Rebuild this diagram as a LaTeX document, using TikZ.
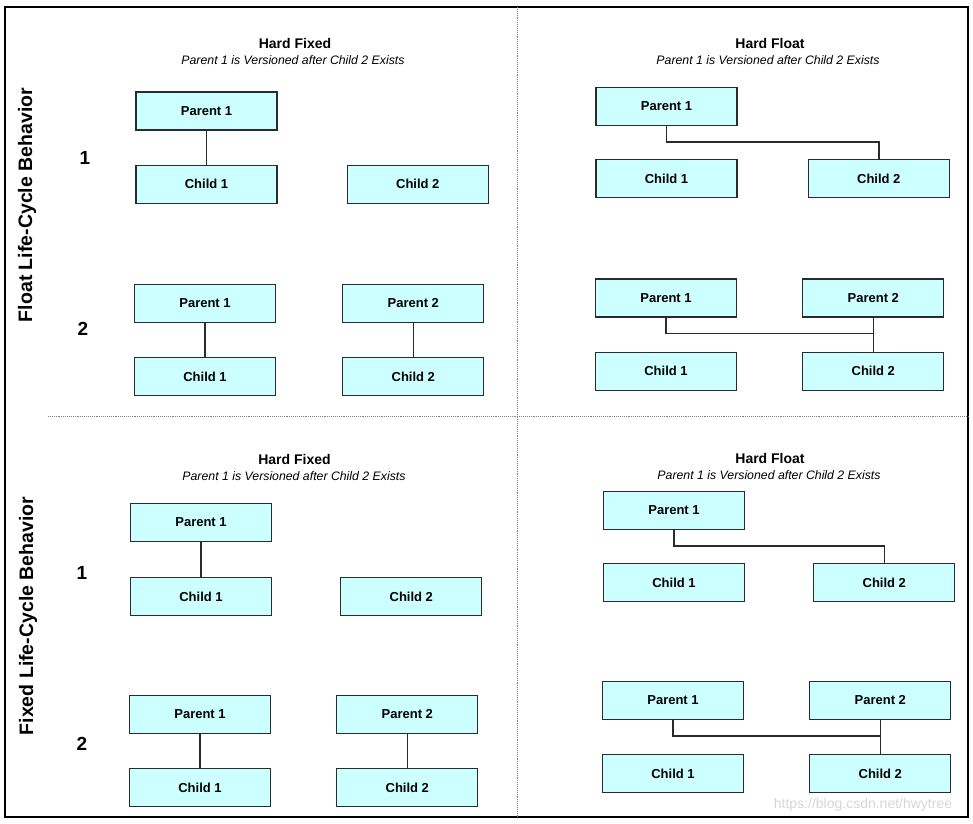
\documentclass[tikz,border=0pt]{standalone}
\usepackage{fontspec}
\setmainfont{Liberation Sans}
\usepackage{tikz}
\usetikzlibrary{positioning}
\definecolor{boxcyan}{HTML}{CCFFFF}
\definecolor{edgegray}{HTML}{2B2B2B}
\definecolor{markgray}{HTML}{D6D6D6}

\begin{document}
\begin{tikzpicture}[
  x=1pt,y=-1pt,
  node distance=34pt and 67pt,
  box/.style={draw=edgegray,line width=1.3pt,fill=boxcyan,minimum width=141pt,
              minimum height=38pt,inner sep=0pt,font=\fontsize{13}{15}\selectfont\bfseries},
  link/.style={draw=edgegray,line width=1.4pt},
  hdr/.style={font=\fontsize{14}{16}\selectfont\bfseries},
  subtitle/.style={font=\fontsize{12.3}{14}\selectfont\itshape},
  sidelabel/.style={rotate=90,font=\fontsize{19.5}{22}\selectfont\bfseries},
  rownum/.style={font=\fontsize{19}{21}\selectfont\bfseries},
  divider/.style={draw=gray,line width=0.9pt,densely dotted}
]
  \useasboundingbox (0,0) rectangle (973,823);
  \draw[line width=1.5pt] (5,7) rectangle (968,817);
  \draw[divider] (517.5,7) -- (517.5,817);
  \draw[divider] (48,416.5) -- (968,416.5);

  \node[sidelabel] (floatlbl) at (27,205) {Float Life-Cycle Behavior};
  \node[sidelabel] (fixedlbl) at (28,616) {Fixed Life-Cycle Behavior};
  \node[rownum] (num1a) at (85,158) {1};
  \node[rownum] (num2a) at (83,329) {2};
  \node[rownum] (num1b) at (82,573) {1};
  \node[rownum] (num2b) at (82,744) {2};

  \node[hdr] (ahdr) at (295,43) {Hard Fixed};
  \node[subtitle] (asub) at (293,60) {Parent 1 is Versioned after Child 2 Exists};
  \node[box] (a1p1) at (206.5,111) {Parent 1};
  \node[box,below=of a1p1] (a1c1) {Child 1};
  \node[box,right=69pt of a1c1] (a1c2) {Child 2};
  \draw[link] (a1p1) -- (a1c1);

  \node[box] (a2p1) at (205,303.5) {Parent 1};
  \node[box,right=66pt of a2p1] (a2p2) {Parent 2};
  \node[box,below=of a2p1] (a2c1) {Child 1};
  \node[box,below=of a2p2] (a2c2) {Child 2};
  \draw[link] (a2p1) -- (a2c1);
  \draw[link] (a2p2) -- (a2c2);

  \node[hdr] (bhdr) at (770,43) {Hard Float};
  \node[subtitle] (bsub) at (768,60) {Parent 1 is Versioned after Child 2 Exists};
  \node[box] (b1p1) at (666.5,106.5) {Parent 1};
  \node[box,below=33pt of b1p1] (b1c1) {Child 1};
  \node[box,right=70pt of b1c1] (b1c2) {Child 2};
  \draw[link] (b1p1.south) -- ++(0,16) -| (b1c2.north);

  \node[box] (b2p1) at (666,298) {Parent 1};
  \node[box,right=65pt of b2p1] (b2p2) {Parent 2};
  \node[box,below=of b2p1] (b2c1) {Child 1};
  \node[box,below=of b2p2] (b2c2) {Child 2};
  \draw[link] (b2p1.south) -- ++(0,16) -| (b2c2.north);
  \draw[link] (b2p2) -- (b2c2);

  \node[hdr] (chdr) at (294.5,459) {Hard Fixed};
  \node[subtitle] (csub) at (294,476) {Parent 1 is Versioned after Child 2 Exists};
  \node[box] (c1p1) at (201,522.5) {Parent 1};
  \node[box,below=35pt of c1p1] (c1c1) {Child 1};
  \node[box,right=68pt of c1c1] (c1c2) {Child 2};
  \draw[link] (c1p1) -- (c1c1);

  \node[box] (c2p1) at (200,714.5) {Parent 1};
  \node[box,right=65pt of c2p1] (c2p2) {Parent 2};
  \node[box,below=of c2p1] (c2c1) {Child 1};
  \node[box,below=of c2p2] (c2c2) {Child 2};
  \draw[link] (c2p1) -- (c2c1);
  \draw[link] (c2p2) -- (c2c2);

  \node[hdr] (dhdr) at (770,458) {Hard Float};
  \node[subtitle] (dsub) at (769,475) {Parent 1 is Versioned after Child 2 Exists};
  \node[box] (d1p1) at (674,510.5) {Parent 1};
  \node[box,below=33pt of d1p1] (d1c1) {Child 1};
  \node[box,right=68pt of d1c1] (d1c2) {Child 2};
  \draw[link] (d1p1.south) -- ++(0,16) -| (d1c2.north);

  \node[box] (d2p1) at (673,700.5) {Parent 1};
  \node[box,right=65pt of d2p1] (d2p2) {Parent 2};
  \node[box,below=of d2p1] (d2c1) {Child 1};
  \node[box,below=of d2p2] (d2c2) {Child 2};
  \draw[link] (d2p1.south) -- ++(0,16) -| (d2c2.north);
  \draw[link] (d2p2) -- (d2c2);

  \node[font=\fontsize{14}{16}\selectfont,text=markgray] (mark) at (863,805) {https://blog.csdn.net/hwytree};
\end{tikzpicture}
\end{document}
